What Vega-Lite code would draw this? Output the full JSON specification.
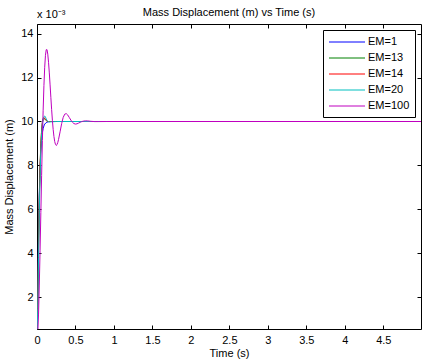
{
  "$schema": "https://vega.github.io/schema/vega-lite/v6.json",
  "width": 384,
  "height": 305,
  "autosize": {"type": "none"},
  "padding": {"left": 37, "top": 24, "right": 10, "bottom": 35},
  "background": "white",
  "config": {
    "font": "Liberation Sans",
    "view": {"stroke": "black", "strokeWidth": 1},
    "axis": {
      "grid": false,
      "domain": false,
      "ticks": true,
      "tickSize": -4,
      "tickColor": "black",
      "tickWidth": 1,
      "labelColor": "black",
      "labelFont": "Liberation Sans",
      "labelFontSize": 11,
      "labelFlush": false,
      "labelOverlap": false,
      "titleColor": "black",
      "titleFont": "Liberation Sans",
      "titleFontSize": 11,
      "titleFontWeight": "normal"
    }
  },
  "title": {
    "text": "Mass Displacement (m) vs Time (s)",
    "font": "Liberation Sans",
    "fontSize": 11,
    "fontWeight": "normal",
    "color": "black",
    "anchor": "middle",
    "offset": -9
  },
  "layer": [
    {
      "data": {
        "values": [
          {"t": 0, "d": 0, "s": "EM=1"},
          {"t": 0.01, "d": 0.0022, "s": "EM=1"},
          {"t": 0.02, "d": 0.0048, "s": "EM=1"},
          {"t": 0.03, "d": 0.0067, "s": "EM=1"},
          {"t": 0.04, "d": 0.0079, "s": "EM=1"},
          {"t": 0.05, "d": 0.0087, "s": "EM=1"},
          {"t": 0.06, "d": 0.0092, "s": "EM=1"},
          {"t": 0.07, "d": 0.0095, "s": "EM=1"},
          {"t": 0.08, "d": 0.00968, "s": "EM=1"},
          {"t": 0.09, "d": 0.0098, "s": "EM=1"},
          {"t": 0.1, "d": 0.00988, "s": "EM=1"},
          {"t": 0.12, "d": 0.00995, "s": "EM=1"},
          {"t": 0.14, "d": 0.00998, "s": "EM=1"},
          {"t": 0.17, "d": 0.01, "s": "EM=1"},
          {"t": 1, "d": 0.01, "s": "EM=1"},
          {"t": 2, "d": 0.01, "s": "EM=1"},
          {"t": 3, "d": 0.01, "s": "EM=1"},
          {"t": 4, "d": 0.01, "s": "EM=1"},
          {"t": 5, "d": 0.01, "s": "EM=1"},

          {"t": 0, "d": 0, "s": "EM=13"},
          {"t": 0.01, "d": 0.0018, "s": "EM=13"},
          {"t": 0.02, "d": 0.0043, "s": "EM=13"},
          {"t": 0.03, "d": 0.0065, "s": "EM=13"},
          {"t": 0.04, "d": 0.008, "s": "EM=13"},
          {"t": 0.05, "d": 0.009, "s": "EM=13"},
          {"t": 0.06, "d": 0.0096, "s": "EM=13"},
          {"t": 0.07, "d": 0.00995, "s": "EM=13"},
          {"t": 0.08, "d": 0.0101, "s": "EM=13"},
          {"t": 0.09, "d": 0.01014, "s": "EM=13"},
          {"t": 0.1, "d": 0.01012, "s": "EM=13"},
          {"t": 0.11, "d": 0.01008, "s": "EM=13"},
          {"t": 0.12, "d": 0.01004, "s": "EM=13"},
          {"t": 0.14, "d": 0.01, "s": "EM=13"},
          {"t": 1, "d": 0.01, "s": "EM=13"},
          {"t": 5, "d": 0.01, "s": "EM=13"},

          {"t": 0, "d": 0, "s": "EM=14"},
          {"t": 0.01, "d": 0.0017, "s": "EM=14"},
          {"t": 0.02, "d": 0.0042, "s": "EM=14"},
          {"t": 0.03, "d": 0.0064, "s": "EM=14"},
          {"t": 0.04, "d": 0.0079, "s": "EM=14"},
          {"t": 0.05, "d": 0.00895, "s": "EM=14"},
          {"t": 0.06, "d": 0.0096, "s": "EM=14"},
          {"t": 0.07, "d": 0.00997, "s": "EM=14"},
          {"t": 0.08, "d": 0.01013, "s": "EM=14"},
          {"t": 0.09, "d": 0.01017, "s": "EM=14"},
          {"t": 0.1, "d": 0.01015, "s": "EM=14"},
          {"t": 0.11, "d": 0.0101, "s": "EM=14"},
          {"t": 0.12, "d": 0.01005, "s": "EM=14"},
          {"t": 0.14, "d": 0.01, "s": "EM=14"},
          {"t": 1, "d": 0.01, "s": "EM=14"},
          {"t": 5, "d": 0.01, "s": "EM=14"},

          {"t": 0, "d": 0, "s": "EM=20"},
          {"t": 0.01, "d": 0.0015, "s": "EM=20"},
          {"t": 0.02, "d": 0.0038, "s": "EM=20"},
          {"t": 0.03, "d": 0.0059, "s": "EM=20"},
          {"t": 0.04, "d": 0.0075, "s": "EM=20"},
          {"t": 0.05, "d": 0.0087, "s": "EM=20"},
          {"t": 0.06, "d": 0.00945, "s": "EM=20"},
          {"t": 0.07, "d": 0.0099, "s": "EM=20"},
          {"t": 0.08, "d": 0.01012, "s": "EM=20"},
          {"t": 0.09, "d": 0.01022, "s": "EM=20"},
          {"t": 0.1, "d": 0.01025, "s": "EM=20"},
          {"t": 0.11, "d": 0.0102, "s": "EM=20"},
          {"t": 0.12, "d": 0.01012, "s": "EM=20"},
          {"t": 0.13, "d": 0.01005, "s": "EM=20"},
          {"t": 0.14, "d": 0.01001, "s": "EM=20"},
          {"t": 0.16, "d": 0.00998, "s": "EM=20"},
          {"t": 0.2, "d": 0.00999, "s": "EM=20"},
          {"t": 0.25, "d": 0.01, "s": "EM=20"},
          {"t": 1, "d": 0.01, "s": "EM=20"},
          {"t": 5, "d": 0.01, "s": "EM=20"},

          {"t": 0, "d": 0, "s": "EM=100"},
          {"t": 0.01, "d": 0.000332, "s": "EM=100"},
          {"t": 0.02, "d": 0.001235, "s": "EM=100"},
          {"t": 0.03, "d": 0.002556, "s": "EM=100"},
          {"t": 0.04, "d": 0.004142, "s": "EM=100"},
          {"t": 0.05, "d": 0.005853, "s": "EM=100"},
          {"t": 0.06, "d": 0.007549, "s": "EM=100"},
          {"t": 0.07, "d": 0.009131, "s": "EM=100"},
          {"t": 0.08, "d": 0.010512, "s": "EM=100"},
          {"t": 0.09, "d": 0.011634, "s": "EM=100"},
          {"t": 0.1, "d": 0.012468, "s": "EM=100"},
          {"t": 0.11, "d": 0.013012, "s": "EM=100"},
          {"t": 0.12, "d": 0.013267, "s": "EM=100"},
          {"t": 0.13, "d": 0.013272, "s": "EM=100"},
          {"t": 0.14, "d": 0.013066, "s": "EM=100"},
          {"t": 0.15, "d": 0.012695, "s": "EM=100"},
          {"t": 0.16, "d": 0.012212, "s": "EM=100"},
          {"t": 0.17, "d": 0.011667, "s": "EM=100"},
          {"t": 0.18, "d": 0.011102, "s": "EM=100"},
          {"t": 0.19, "d": 0.010552, "s": "EM=100"},
          {"t": 0.2, "d": 0.010053, "s": "EM=100"},
          {"t": 0.21, "d": 0.009639, "s": "EM=100"},
          {"t": 0.22, "d": 0.009318, "s": "EM=100"},
          {"t": 0.23, "d": 0.009092, "s": "EM=100"},
          {"t": 0.24, "d": 0.008958, "s": "EM=100"},
          {"t": 0.25, "d": 0.008911, "s": "EM=100"},
          {"t": 0.26, "d": 0.008945, "s": "EM=100"},
          {"t": 0.27, "d": 0.009043, "s": "EM=100"},
          {"t": 0.28, "d": 0.009184, "s": "EM=100"},
          {"t": 0.3, "d": 0.009531, "s": "EM=100"},
          {"t": 0.32, "d": 0.0099, "s": "EM=100"},
          {"t": 0.34, "d": 0.010181, "s": "EM=100"},
          {"t": 0.36, "d": 0.010333, "s": "EM=100"},
          {"t": 0.38, "d": 0.010358, "s": "EM=100"},
          {"t": 0.4, "d": 0.010292, "s": "EM=100"},
          {"t": 0.42, "d": 0.01018, "s": "EM=100"},
          {"t": 0.44, "d": 0.010063, "s": "EM=100"},
          {"t": 0.46, "d": 0.009968, "s": "EM=100"},
          {"t": 0.48, "d": 0.009905, "s": "EM=100"},
          {"t": 0.5, "d": 0.009882, "s": "EM=100"},
          {"t": 0.52, "d": 0.009895, "s": "EM=100"},
          {"t": 0.54, "d": 0.009927, "s": "EM=100"},
          {"t": 0.56, "d": 0.009962, "s": "EM=100"},
          {"t": 0.58, "d": 0.009993, "s": "EM=100"},
          {"t": 0.6, "d": 0.010015, "s": "EM=100"},
          {"t": 0.63, "d": 0.01003, "s": "EM=100"},
          {"t": 0.66, "d": 0.010025, "s": "EM=100"},
          {"t": 0.7, "d": 0.010008, "s": "EM=100"},
          {"t": 0.75, "d": 0.009996, "s": "EM=100"},
          {"t": 0.8, "d": 0.009997, "s": "EM=100"},
          {"t": 0.9, "d": 0.01, "s": "EM=100"},
          {"t": 1, "d": 0.01, "s": "EM=100"},
          {"t": 2, "d": 0.01, "s": "EM=100"},
          {"t": 3, "d": 0.01, "s": "EM=100"},
          {"t": 4, "d": 0.01, "s": "EM=100"},
          {"t": 5, "d": 0.01, "s": "EM=100"}
        ]
      },
      "encoding": {
        "x": {
          "field": "t",
          "type": "quantitative",
          "scale": {"domain": [0, 4.99], "nice": false, "zero": false},
          "axis": {
            "orient": "bottom",
            "values": [0, 0.5, 1, 1.5, 2, 2.5, 3, 3.5, 4, 4.5],
            "format": "~g",
            "labelPadding": 9,
            "title": "Time (s)",
            "titlePadding": 2
          }
        },
        "y": {
          "field": "d",
          "type": "quantitative",
          "scale": {"domain": [0.000555, 0.014438], "nice": false, "zero": false},
          "axis": {
            "orient": "left",
            "values": [0.002, 0.004, 0.006, 0.008, 0.01, 0.012, 0.014],
            "labelExpr": "format(datum.value * 1000, 'd')",
            "labelPadding": 8,
            "title": "Mass Displacement (m)",
            "titlePadding": 6
          }
        },
        "color": {
          "field": "s",
          "type": "nominal",
          "scale": {
            "domain": ["EM=1", "EM=13", "EM=14", "EM=20", "EM=100"],
            "range": ["#0000ff", "#008000", "#ff0000", "#00bfbf", "#bf00bf"]
          },
          "legend": {
            "title": null,
            "orient": "top-right",
            "offset": 6,
            "strokeColor": "black",
            "fillColor": "white",
            "padding": 5.5,
            "symbolType": "M-1,0H5",
            "symbolSize": 144,
            "symbolStrokeWidth": 1,
            "labelOffset": 26.5,
            "rowPadding": 4,
            "labelFont": "Liberation Sans",
            "labelFontSize": 11,
            "labelColor": "black",
            "cornerRadius": 0
          }
        }
      },
      "layer": [
        {"transform": [{"filter": "datum.s === 'EM=1'"}], "mark": {"type": "line", "strokeWidth": 1, "clip": true}},
        {"transform": [{"filter": "datum.s === 'EM=13'"}], "mark": {"type": "line", "strokeWidth": 1, "clip": true}},
        {"transform": [{"filter": "datum.s === 'EM=14'"}], "mark": {"type": "line", "strokeWidth": 1, "clip": true}},
        {"transform": [{"filter": "datum.s === 'EM=20'"}], "mark": {"type": "line", "strokeWidth": 1, "clip": true}},
        {"transform": [{"filter": "datum.s === 'EM=100'"}], "mark": {"type": "line", "strokeWidth": 1, "clip": true}}
      ]
    },
    {
      "data": {"values": [{"label": "x 10⁻³"}]},
      "mark": {"type": "text", "align": "left", "baseline": "alphabetic", "fontSize": 11, "font": "Liberation Sans", "color": "black"},
      "encoding": {
        "x": {
          "datum": 0,
          "type": "quantitative",
          "axis": {"orient": "top", "labels": false, "title": null, "values": [0, 0.5, 1, 1.5, 2, 2.5, 3, 3.5, 4, 4.5]}
        },
        "y": {
          "datum": 0.01471,
          "type": "quantitative",
          "axis": {"orient": "right", "labels": false, "title": null, "values": [0.002, 0.004, 0.006, 0.008, 0.01, 0.012, 0.014]}
        },
        "text": {"field": "label"}
      }
    }
  ],
  "resolve": {"axis": {"x": "independent", "y": "independent"}}
}
